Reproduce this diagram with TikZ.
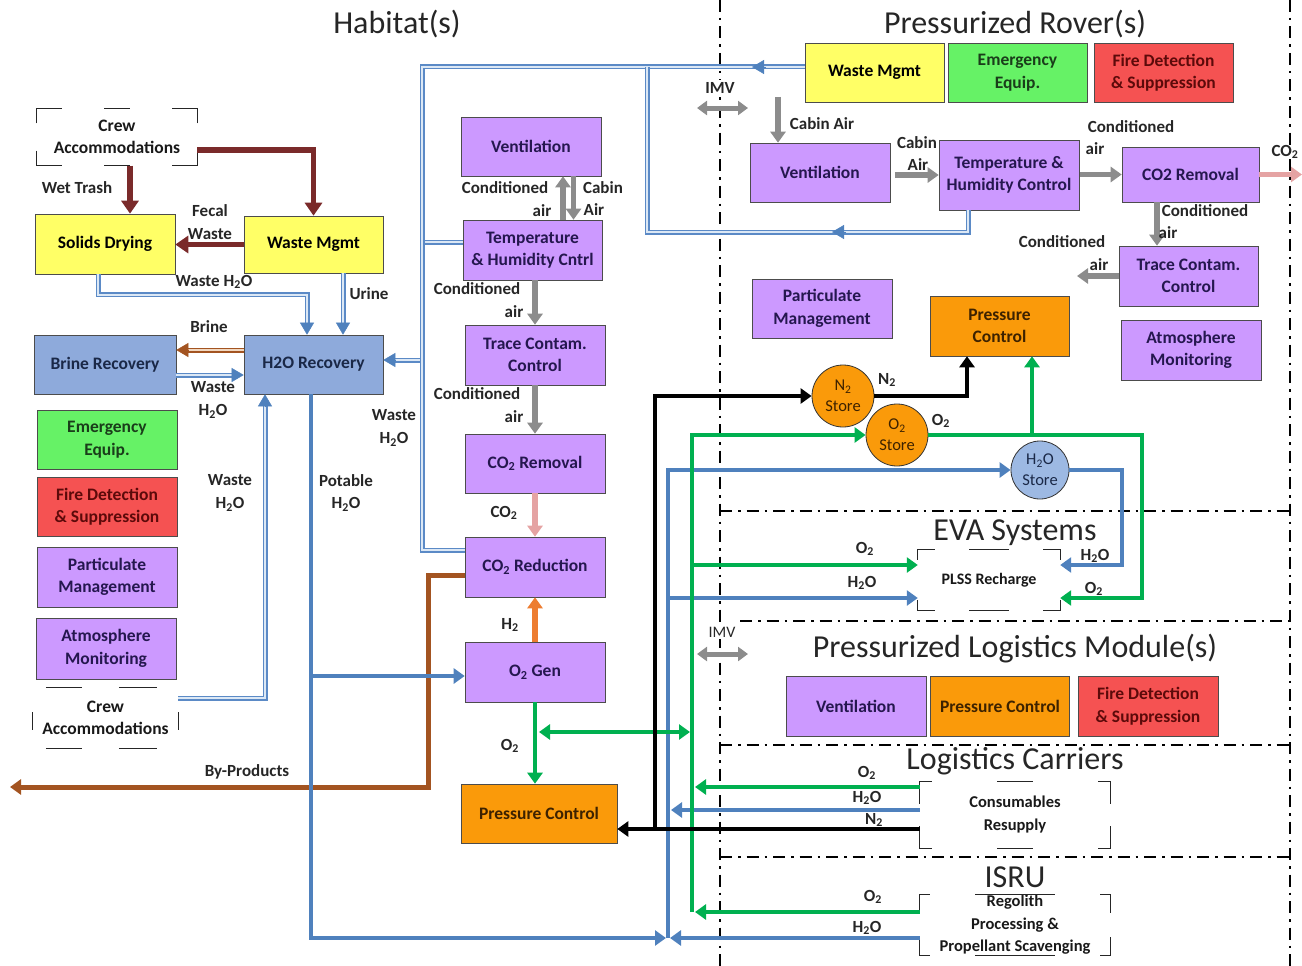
\documentclass[tikz,border=0pt]{standalone}
\usepackage{fontspec}
\setmainfont{Carlito}
\usetikzlibrary{arrows.meta,calc}
\definecolor{purp}{HTML}{CC99FF}
\definecolor{ptxt}{HTML}{25174F}
\definecolor{yel}{HTML}{FFFF66}
\definecolor{grnbox}{HTML}{66F266}
\definecolor{gtxt}{HTML}{1A3D1A}
\definecolor{redbox}{HTML}{F55252}
\definecolor{rtxt}{HTML}{5C0A0A}
\definecolor{orng}{HTML}{FA9A0A}
\definecolor{otxt}{HTML}{3D2200}
\definecolor{bbox}{HTML}{8EAADB}
\definecolor{btxt}{HTML}{1A2847}
\definecolor{h2oc}{HTML}{9DB9E3}
\definecolor{bline}{HTML}{4F81BD}
\definecolor{gline}{HTML}{00B050}
\definecolor{gray1}{HTML}{8C8C8C}
\definecolor{maroon1}{HTML}{7A2A2A}
\definecolor{brown1}{HTML}{A35421}
\definecolor{h2col}{HTML}{ED7D31}
\definecolor{pink1}{HTML}{E5A3A3}
\definecolor{dblo}{HTML}{5B8AC6}
\definecolor{dbli}{HTML}{DCE8F5}
\definecolor{dblbi}{HTML}{F2D8C0}
\newcommand{\bx}{\fontsize{17.5}{22.5}\selectfont\bfseries}
\newcommand{\lf}{\fontsize{17}{22.5}\selectfont\bfseries}
\newcommand{\HtwoO}{H\textsubscript{2}O}
\tikzset{
 box/.style={draw=black!70, line width=0.6pt, align=center, inner sep=0pt, font=\bx, minimum width=140pt, minimum height=60pt},
 pb/.style={box, fill=purp, text=ptxt},
 yb/.style={box, fill=yel, text=black},
 gb/.style={box, fill=grnbox, text=gtxt},
 rb/.style={box, fill=redbox, text=rtxt},
 ob/.style={box, fill=orng, text=otxt},
 bb/.style={box, fill=bbox, text=btxt},
 tb/.style={align=center, inner sep=0pt, font=\bx, text=black!90},
 lab/.style={font=\lf, inner sep=0pt, align=center, text=black!85},
 ttl/.style={font=\fontsize{32}{35}\selectfont, inner sep=0pt, text=black!85},
 sec/.style={line width=2.5pt, dash pattern=on 12pt off 6pt on 2.5pt off 6pt},
 brk/.style={line width=1.1pt, draw=black!85},
 arr/.style={-{Triangle[width=15pt,length=11pt]}},
 garr/.style={draw=gray1, line width=5.5pt, arr},
 marr/.style={draw=maroon1, line width=5.5pt, -{Triangle[width=17pt,length=13pt]}},
 bln/.style={draw=bline, line width=4.5pt},
 grl/.style={draw=gline, line width=4.5pt},
 bkl/.style={draw=black, line width=4.5pt},
 dbl/.style={draw=dblo, line width=1.4pt, double=dbli, double distance=2.2pt},
 bdbl/.style={draw=brown1, line width=1.4pt, double=dblbi, double distance=2.2pt},
 dhd/.style={draw=bline, line width=0.5pt, -{Triangle[width=14pt,length=12pt]}},
 circ/.style={circle, draw=black!80, line width=0.8pt, fill=orng, minimum size=62pt, inner sep=0pt, align=center, font=\fontsize{16.5}{21}\selectfont, text=otxt},
 dbla/.style={draw=gray1, line width=5pt, {Triangle[width=14pt,length=10pt]}-{Triangle[width=14pt,length=10pt]}}
}
\newcommand{\dblhead}[4]{\draw[dhd,#4] ($(#1)+(#2,#3)$) -- (#1);}
\newcommand{\brkt}[4]{%
  \draw[brk] ([yshift=-#3]#1.north west) -- (#1.north west) -- ([xshift=#2]#1.north west);
  \draw[brk] ([yshift=-#3]#1.north east) -- (#1.north east) -- ([xshift=-#2]#1.north east);
  \draw[brk] ([yshift=#3]#1.south west) -- (#1.south west) -- ([xshift=#2]#1.south west);
  \draw[brk] ([yshift=#3]#1.south east) -- (#1.south east) -- ([xshift=-#2]#1.south east);
  \draw[brk] ([xshift=-#4]#1.north) -- ([xshift=#4]#1.north);
  \draw[brk] ([xshift=-#4]#1.south) -- ([xshift=#4]#1.south);}
\begin{document}
\begin{tikzpicture}[x=1pt,y=-1pt]
\useasboundingbox (0,0) rectangle (1302,966);
% section lines
\draw[sec] (720,0) -- (720,966);
\draw[sec] (1290,0) -- (1290,966);
\draw[sec] (720,511) -- (1290,511);
\draw[sec] (740,621) -- (1290,621);
\draw[sec] (720,745) -- (1290,745);
\draw[sec] (720,857) -- (1290,857);
% titles
\node[ttl] (tHab) at (397,24) {Habitat(s)};
\node[ttl] (tRov) at (1015,24) {Pressurized Rover(s)};
\node[ttl] (tEva) at (1015,533) {EVA Systems};
\node[ttl] (tPlm) at (1015,649) {Pressurized Logistics Module(s)};
\node[ttl] (tLog) at (1015,761) {Logistics Carriers};
\node[ttl] (tIsru) at (1015,877) {ISRU};
% left column
\node[tb, minimum width=160pt, minimum height=57pt] (crewT) at (117,137) {Crew\\Accommodations};
\brkt{crewT}{25pt}{15pt}{13pt}
\node[yb] (solids) at (105,244) {Solids Drying};
\node[yb, minimum width=139pt, minimum height=57pt] (wasteH) at (313.5,244.5) {Waste Mgmt};
\node[bb, minimum width=142pt, minimum height=59pt] (brine) at (105,364.5) {Brine Recovery};
\node[bb, minimum width=139pt, minimum height=59pt] (h2orec) at (313.5,364.5) {H2O Recovery};
\node[gb, minimum height=59pt] (emergL) at (107,439.5) {Emergency\\Equip.};
\node[rb, minimum height=59pt] (fireL) at (107,506.5) {Fire Detection\\\& Suppression};
\node[pb] (partL) at (107,577) {Particulate\\Management};
\node[pb, minimum height=61pt] (atmL) at (106,648.5) {Atmosphere\\Monitoring};
\node[tb, minimum width=145pt, minimum height=60pt] (crewB) at (105.5,718) {Crew\\Accommodations};
\draw[brk] ([xshift=13pt]crewB.north west) -- ([xshift=49pt]crewB.north west);
\draw[brk] ([xshift=86pt]crewB.north west) -- ([xshift=124pt]crewB.north west);
\draw[brk] ([xshift=13pt]crewB.south west) -- ([xshift=49pt]crewB.south west);
\draw[brk] ([xshift=86pt]crewB.south west) -- ([xshift=124pt]crewB.south west);
\draw[brk] ([yshift=6pt]crewB.west) -- ([yshift=-12pt]crewB.west);
\draw[brk] ([yshift=6pt]crewB.east) -- ([yshift=-12pt]crewB.east);
% center column
\node[pb, minimum height=59pt] (ventH) at (531,146.5) {Ventilation};
\node[pb, minimum width=139pt] (thH) at (532.5,250) {Temperature\\\& Humidity Cntrl};
\node[pb] (traceH) at (535,355) {Trace Contam.\\Control};
\node[pb, minimum height=59pt] (co2remH) at (535,463.5) {CO\textsubscript{2} Removal};
\node[pb] (co2redH) at (535,567) {CO\textsubscript{2} Reduction};
\node[pb] (o2gen) at (535,672) {O\textsubscript{2} Gen};
\node[ob, minimum width=156pt, minimum height=59pt] (pcH) at (539,813.5) {Pressure Control};
% rover
\node[yb, minimum width=139pt, minimum height=59pt] (wasteR) at (874.5,72.5) {Waste Mgmt};
\node[gb, minimum width=139pt, minimum height=59pt] (emergR) at (1017.5,72.5) {Emergency\\Equip.};
\node[rb, minimum width=139pt, minimum height=59pt] (fireR) at (1163.5,72.5) {Fire Detection\\\& Suppression};
\node[pb, minimum height=59pt] (ventR) at (820,172.5) {Ventilation};
\node[pb, minimum height=70pt] (thR) at (1009,175) {Temperature \&\\Humidity Control};
\node[pb, minimum width=137pt, minimum height=55pt] (co2R) at (1190.5,174.5) {CO2 Removal};
\node[pb, minimum width=139pt] (traceR) at (1188.5,276) {Trace Contam.\\Control};
\node[pb, minimum height=59pt] (partR) at (822,308.5) {Particulate\\Management};
\node[ob, minimum width=139pt] (pcR) at (999.5,326) {Pressure\\Control};
\node[pb] (atmR) at (1191,350) {Atmosphere\\Monitoring};
\node[circ] (n2s) at (843,396) {N\textsubscript{2}\\Store};
\node[circ] (o2s) at (897,435) {O\textsubscript{2}\\Store};
\node[circ, fill=h2oc, minimum size=58pt, text=btxt] (h2os) at (1040,470) {\HtwoO\\Store};
% EVA, PLM, carriers, ISRU
\node[tb, minimum width=142pt, minimum height=60pt, font=\fontsize{16}{19}\selectfont\bfseries] (plss) at (989,580) {PLSS Recharge};
\brkt{plss}{17pt}{10pt}{20pt}
\node[pb] (ventP) at (856,706) {Ventilation};
\node[ob, minimum width=139pt] (pcP) at (1000,706) {Pressure Control};
\node[rb] (fireP) at (1148,706) {Fire Detection\\\& Suppression};
\node[tb, minimum width=190pt, minimum height=66pt, font=\fontsize{16.5}{23}\selectfont\bfseries] (cons) at (1015,815) {Consumables\\Resupply};
\brkt{cons}{12pt}{22pt}{18pt}
\node[tb, minimum width=190pt, minimum height=60pt, font=\fontsize{16.5}{22.5}\selectfont\bfseries] (isru) at (1015,925) {Regolith\\Processing \&\\Propellant Scavenging};
\brkt{isru}{10pt}{18pt}{40pt}
% IMV
\node[lab, fill=white, inner sep=2pt] (imv1) at (720,88) {IMV};
\coordinate (imv1a) at (697,108); \coordinate (imv1b) at (748,108);
\draw[dbla] (imv1a) -- (imv1b);
\node[lab, fill=white, inner sep=2pt, font=\fontsize{16}{18}\selectfont] (imv2) at (722,632) {IMV};
\coordinate (imv2a) at (697,654); \coordinate (imv2b) at (748,654);
\draw[dbla] (imv2a) -- (imv2b);
% ---- double-line water connectors
\coordinate (bt) at (422,67);
\coordinate (d6) at ([yshift=5.5pt]wasteR.west);
\coordinate (bb) at (422,550);
\coordinate (b1) at (422,242);
\draw[dbl] (b1) -- (b1 -| thH.west);
\coordinate (b2) at (422,360); \coordinate (b2e) at (b2 -| h2orec.east);
\draw[dbl] (b2) -- ($(b2e)+(11,0)$); \dblhead{b2e}{12}{0}{}
\draw[dbl] (d6) -- (bt) -- (bb) -- (bb -| co2redH.west);
\coordinate (m1) at (752,67); \dblhead{m1}{14}{0}{}
\coordinate (l1) at (647,67); \coordinate (l2) at (647,232); \coordinate (l3e) at ([xshift=-41pt]thR.south);
\draw[dbl] (l1) -- (l2) -| (l3e);
\coordinate (m2) at (832,232); \dblhead{m2}{14}{0}{}
\coordinate (d1) at ([xshift=-7pt]solids.south); \coordinate (d1e) at ([xshift=-6.5pt]h2orec.north);
\draw[dbl] (d1) |- ($(d1e)+(0,-40)$) -- ($(d1e)+(0,-11)$); \dblhead{d1e}{0}{-12}{}
\coordinate (d2) at ([xshift=29.5pt]wasteH.south); \coordinate (d2e) at ([xshift=29.5pt]h2orec.north);
\draw[dbl] (d2) -- ($(d2e)+(0,-11)$); \dblhead{d2e}{0}{-12}{}
\coordinate (d3) at ([yshift=14.5pt]h2orec.west); \coordinate (d3e) at (d3 -| brine.east);
\draw[bdbl] (d3) -- ($(d3e)+(11,0)$); \dblhead{d3e}{12}{0}{draw=brown1}
\coordinate (d4) at ([yshift=-10.5pt]brine.east); \coordinate (d4e) at (d4 -| h2orec.west);
\draw[dbl] (d4) -- ($(d4e)+(-11,0)$); \dblhead{d4e}{-12}{0}{}
\coordinate (d5) at ([yshift=20pt]crewB.east); \coordinate (d5e) at ([xshift=-48.5pt]h2orec.south);
\draw[dbl] (d5) -| ($(d5e)+(0,11)$); \dblhead{d5e}{0}{12}{}
% ---- maroon
\coordinate (c1) at ([xshift=13pt]crewT.south);
\draw[marr] (c1) -- (c1 |- solids.north);
\draw[marr] ([yshift=-13pt]crewT.east) -| (wasteH.north);
\draw[marr] (wasteH.west) -- (wasteH.west -| solids.east);
% ---- gray habitat
\coordinate (g1) at ([xshift=30.5pt]thH.north); \draw[garr] (g1) -- (g1 |- ventH.south);
\coordinate (g2) at ([xshift=42.5pt]ventH.south); \draw[garr] (g2) -- (g2 |- thH.north);
\draw[garr] (thH.south -| traceH.north) -- (traceH.north);
\draw[garr] (traceH.south) -- (co2remH.north);
\draw[draw=pink1, line width=5.5pt, arr] (co2remH.south) -- (co2redH.north);
\draw[draw=h2col, line width=5.5pt, arr] (o2gen.north) -- (co2redH.south);
% by-products
\coordinate (bp0) at ([yshift=-8pt]co2redH.west); \coordinate (bpc) at (428,787); \coordinate (bpend) at (10,787);
\draw[draw=brown1, line width=5pt, arr] (bp0) -| (bpc) -- (bpend);
% ---- blue
\coordinate (pw0) at ([xshift=-2.5pt]h2orec.south);
\coordinate (hx) at (668,938); \coordinate (hxl) at (666,938); \coordinate (hxr) at (670,938);
\coordinate (pw1) at (311,676);
\draw[bln, arr] (pw1) -- (pw1 -| o2gen.west);
\draw[bln, arr] (pw0) |- (hxl);
\coordinate (is2) at ([yshift=-13pt]isru.west);
\draw[bln, arr] (is2) -- (hxr);
\draw[bln, arr] (hx) |- (h2os.west);
\coordinate (bx598) at (668,598); \coordinate (pl1) at ([yshift=-18pt]plss.west);
\draw[bln, arr] (bx598) -- (pl1);
\coordinate (cs2) at ([yshift=5pt]cons.west); \coordinate (hxv) at (671,810);
\draw[bln, arr] (cs2) -- (hxv);
\coordinate (pl2) at ([yshift=15pt]plss.east); \coordinate (hb) at (1122,565);
\draw[bln, arr] (h2os.east) -| (hb) -- (pl2);
% ---- green
\draw[grl, arr] (o2gen.south) -- (o2gen.south |- pcH.north);
\coordinate (ga) at (539,732); \coordinate (gb) at (690,732);
\draw[grl, {Triangle[width=15pt,length=11pt]}-{Triangle[width=15pt,length=11pt]}] (ga) -- (gb);
\coordinate (gx) at (692,912);
\draw[grl, arr] (gx) |- (o2s.west);
\coordinate (gx565) at (692,565); \coordinate (pl4) at ([yshift=15pt]plss.west);
\draw[grl, arr] (gx565) -- (pl4);
\coordinate (cs1) at ([yshift=28pt]cons.west); \coordinate (gxc) at (695,787);
\draw[grl, arr] (cs1) -- (gxc);
\coordinate (is1) at ([yshift=13pt]isru.west); \coordinate (gxi) at (695,912);
\draw[grl, arr] (is1) -- (gxi);
\coordinate (pl3) at ([yshift=-18pt]plss.east); \coordinate (gb2) at (1142,598);
\draw[grl, arr] (o2s.east) -| (gb2) -- (pl3);
\coordinate (o2up) at ([xshift=32.5pt]pcR.south);
\draw[grl, arr] (o2up |- o2s.east) -- (o2up);
% ---- black
\coordinate (cs3) at ([yshift=-14pt]cons.west); \coordinate (kx) at (655,829);
\draw[bkl] (cs3) -- (kx);
\draw[bkl, arr] (kx) |- (n2s.west);
\draw[bkl, arr] (kx) -- (kx -| pcH.east);
\coordinate (n2up) at ([xshift=-32.5pt]pcR.south);
\draw[bkl, arr] (n2s.east) -| (n2up);
% ---- rover gray
\coordinate (ca0) at (778,97); \coordinate (ca1) at ([xshift=-42pt]ventR.north);
\draw[garr] (ca0) -- (ca1);
\coordinate (v1) at ([xshift=5pt]ventR.east |- thR.west);
\draw[garr] (v1) -- (thR.west);
\coordinate (t1) at ([xshift=1pt]thR.east |- co2R.west);
\draw[garr] (t1) -- (co2R.west);
\coordinate (co2out) at (1302,174.5);
\draw[draw=pink1, line width=5.5pt, arr] (co2R.east) -- (co2out);
\coordinate (c2) at ([xshift=-33.5pt]co2R.south);
\draw[garr] (c2) -- (c2 |- traceR.north);
\coordinate (tcout) at (1077,276);
\draw[garr] (traceR.west) -- (tcout);
% ---- labels
\node[lab] (L1) at (77,188) {Wet Trash};
\node[lab] (L2) at (210,222) {Fecal\\Waste};
\node[lab] (L3) at (214,282) {Waste \HtwoO};
\node[lab] (L4) at (369,294) {Urine};
\node[lab] (L5) at (209,327) {Brine};
\node[lab] (L6) at (213,400) {Waste\\\HtwoO};
\node[lab] (L7) at (394,428) {Waste\\\HtwoO};
\node[lab] (L8) at (230,493) {Waste\\\HtwoO};
\node[lab] (L9) at (346,493) {Potable\\\HtwoO};
\node[lab] (L10) at (247,772) {By-Products};
\node[lab] (L11) at (505,188) {Conditioned};
\node[lab] (L12) at (542,211) {air};
\node[lab] (L13) at (603,188) {Cabin};
\node[lab] (L14) at (594,210) {Air};
\node[lab] (L15) at (477,289) {Conditioned};
\node[lab] (L16) at (514,312) {air};
\node[lab] (L17) at (477,394) {Conditioned};
\node[lab] (L18) at (514,417) {air};
\node[lab] (L19) at (504,513) {CO\textsubscript{2}};
\node[lab] (L20) at (510,625) {H\textsubscript{2}};
\node[lab] (L21) at (510,746) {O\textsubscript{2}};
\node[lab] (L22) at (822,124) {Cabin Air};
\node[lab] (L23) at (917,143) {Cabin};
\node[lab] (L24) at (918,165) {Air};
\node[lab] (L25) at (1131,127) {Conditioned};
\node[lab] (L26) at (1095,149) {air};
\node[lab] (L27) at (1285,152) {CO\textsubscript{2}};
\node[lab] (L28) at (1205,211) {Conditioned};
\node[lab] (L29) at (1168,233) {air};
\node[lab] (L30) at (1062,242) {Conditioned};
\node[lab] (L31) at (1099,265) {air};
\node[lab] (L32) at (887,380) {N\textsubscript{2}};
\node[lab] (L33) at (941,421) {O\textsubscript{2}};
\node[lab] (L34) at (865,549) {O\textsubscript{2}};
\node[lab] (L35) at (862,583) {\HtwoO};
\node[lab] (L36) at (1095,556) {\HtwoO};
\node[lab] (L37) at (1094,589) {O\textsubscript{2}};
\node[lab] (L38) at (867,773) {O\textsubscript{2}};
\node[lab] (L39) at (867,798) {\HtwoO};
\node[lab] (L40) at (874,820) {N\textsubscript{2}};
\node[lab] (L41) at (873,897) {O\textsubscript{2}};
\node[lab] (L42) at (867,928) {\HtwoO};
\end{tikzpicture}
\end{document}
